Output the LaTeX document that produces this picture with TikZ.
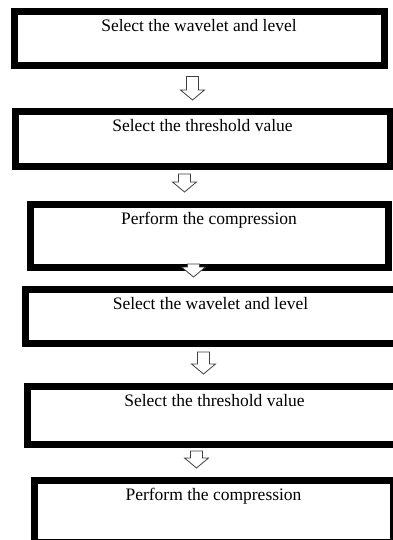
\documentclass[tikz,border=0pt]{standalone}
\usepackage{fontspec}
\setmainfont{Liberation Serif}
\usepackage{tikz}
\usetikzlibrary{calc,positioning}

% hollow block arrow: upper box, lower box, x shift, gap below upper, gap above lower
\newcommand{\blockarrow}[5]{%
  \draw[hollow] let \p1=($(#1.south)+(#3,#4)$), \p2=($(#2.north)+(#3,-#5)$) in
    (\x1-6pt,\y1) -- (\x1-6pt,\y2+10pt) -- (\x1-12pt,\y2+10pt) -- (\x1,\y2)
    -- (\x1+12pt,\y2+10pt) -- (\x1+6pt,\y2+10pt) -- (\x1+6pt,\y1) -- cycle;}

\begin{document}
\begin{tikzpicture}[
  x=1pt, y=-1pt,
  stage/.style={draw, line width=7pt, rectangle, inner sep=0pt, anchor=north west,
    text height=20pt, font=\fontsize{17.5}{20}\selectfont},
  hollow/.style={draw=black!75, fill=white, line width=0.8pt, line join=miter}
]
\useasboundingbox (0,0) rectangle (392,540);

\node[stage, minimum width=370pt, text depth=33.5pt] (wave1) at (10.5,8.5) {Select the wavelet and level};
\node[stage, minimum width=375pt, text depth=35pt] (thr1) at (11.5,108.5) {Select the threshold value};
\node[stage, minimum width=358pt, text depth=43pt] (comp1) at (26.5,200.5) {Perform the compression};
\node[stage, minimum width=371pt, text depth=34pt] (wave2) at (21.5,285.5) {Select the wavelet and level};
\node[stage, minimum width=375pt, text depth=38pt] (thr2) at (23.5,382.5) {Select the threshold value};
\node[stage, minimum width=359pt, text depth=42pt] (comp2) at (30.5,476.5) {Perform the compression};

\blockarrow{wave1}{thr1}{-6.5}{7.5}{8.5}
\blockarrow{thr1}{comp1}{-18}{3.5}{8.5}
\blockarrow{comp1}{wave2}{-15.5}{-6.5}{8.5}
\blockarrow{wave2}{thr2}{-7}{5.5}{8.5}
\blockarrow{thr2}{comp2}{-18}{3.5}{8.5}
\end{tikzpicture}
\end{document}
